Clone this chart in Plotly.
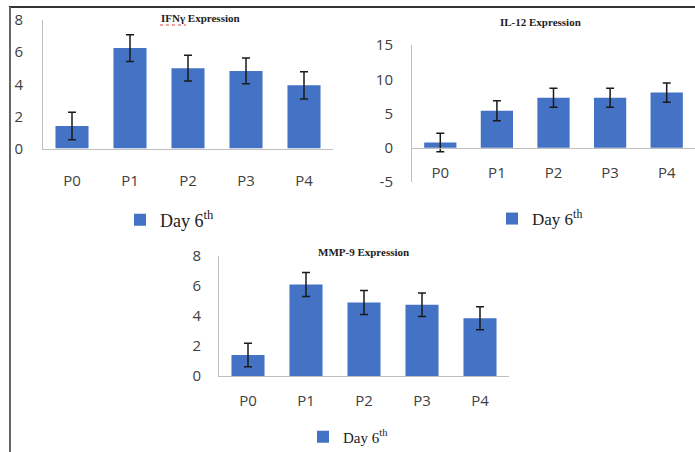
import plotly.graph_objects as go

W, H = 695, 452

categories = ["P0", "P1", "P2", "P3", "P4"]

ifng_values = [1.4, 6.25, 5.0, 4.83, 3.93]
ifng_errors = [0.85, 0.83, 0.8, 0.8, 0.85]

il12_values = [0.75, 5.4, 7.3, 7.3, 8.05]
il12_errors = [1.35, 1.45, 1.4, 1.4, 1.4]

mmp9_values = [1.4, 6.1, 4.9, 4.75, 3.85]
mmp9_errors = [0.78, 0.8, 0.8, 0.78, 0.77]

il12_ticks = [-5, 0, 5, 10, 15]
il12_ticklabels = ["-5", "0", "5", "10", "15"]

titles = ["IFNγ Expression", "IL-12 Expression", "MMP-9 Expression"]
legend_name = "Day 6<sup>th</sup>"

BAR = "#4472C4"
AXIS = "#BFBFBF"
TICK = "#404040"


def fx(px):
    return px / W


def fy(py):
    return 1 - py / H


fig = go.Figure()

series = [(ifng_values, ifng_errors), (il12_values, il12_errors), (mmp9_values, mmp9_errors)]
for i, (vals, errs) in enumerate(series):
    sfx = "" if i == 0 else str(i + 1)
    fig.add_trace(go.Bar(
        x=categories, y=vals,
        xaxis="x" + sfx, yaxis="y" + sfx,
        marker=dict(color=BAR, line=dict(width=0)),
        error_y=dict(type="data", array=errs, visible=True, color="#1a1a1a", thickness=1.5, width=4),
        name=legend_name, showlegend=True, legend="legend" + sfx,
    ))

tickfont = dict(family="Open Sans", size=15, color=TICK)

common_x = dict(showline=True, linecolor=AXIS, linewidth=1, showgrid=False, zeroline=False,
                ticks="", tickfont=tickfont, fixedrange=True, automargin=False)
common_y = dict(showline=True, linecolor=AXIS, linewidth=1, showgrid=False, zeroline=False,
                ticks="", tickfont=tickfont, fixedrange=True, automargin=False)

layout = dict(
    width=W, height=H,
    margin=dict(l=0, r=0, t=0, b=0, autoexpand=False),
    paper_bgcolor="white", plot_bgcolor="white",
    bargap=0.43,
    xaxis=dict(common_x, domain=[fx(43), fx(333)], anchor="y", ticklabelstandoff=18),
    yaxis=dict(common_y, domain=[fy(148.5), fy(20)], range=[0, 8], dtick=2, anchor="x", ticklabelstandoff=16),
    xaxis2=dict(common_x, domain=[fx(412), 1.0], anchor="free", position=fy(147.75), ticklabelstandoff=11),
    yaxis2=dict(common_y, domain=[fy(182), fy(45)], range=[-5, 15], tickvals=il12_ticks,
                ticktext=il12_ticklabels, anchor="x2", ticklabelstandoff=15),
    xaxis3=dict(common_x, domain=[fx(219), fx(509)], anchor="y3", ticklabelstandoff=11),
    yaxis3=dict(common_y, domain=[fy(376), fy(256)], range=[0, 8], dtick=2, anchor="x3", ticklabelstandoff=14),
)

for key, lx, ly, fs in [("legend", 120, 220, 18), ("legend2", 492, 219, 17), ("legend3", 303, 437, 15)]:
    layout[key] = dict(x=fx(lx), y=fy(ly), xanchor="left", yanchor="middle",
                       bgcolor="rgba(0,0,0,0)",
                       font=dict(family="Liberation Serif", size=fs, color="#222222"))

fig.update_layout(**layout)

title_font = dict(family="Liberation Serif", size=11, color="#222222")
for t, cx, cy in [(titles[0], 200, 18), (titles[1], 540, 22), (titles[2], 363, 252)]:
    fig.add_annotation(text="<b>%s</b>" % t, x=fx(cx), y=fy(cy), xref="paper", yref="paper",
                       showarrow=False, font=title_font, xanchor="center", yanchor="middle")

# frame lines of the figure panel
fig.add_shape(type="line", xref="paper", yref="paper", x0=fx(9), x1=1, y0=fy(7), y1=fy(7),
              line=dict(color="#333333", width=2))
fig.add_shape(type="line", xref="paper", yref="paper", x0=fx(10), x1=fx(10), y0=fy(7), y1=0,
              line=dict(color="#666666", width=2))
# spell-check underline under "IFNγ"
fig.add_shape(type="line", xref="paper", yref="paper", x0=fx(160), x1=fx(186), y0=fy(25), y1=fy(25),
              line=dict(color="#e04040", width=1, dash="dot"))

fig.write_html("out.html", config={"displayModeBar": False},
               post_script="document.body.style.margin='0';")
